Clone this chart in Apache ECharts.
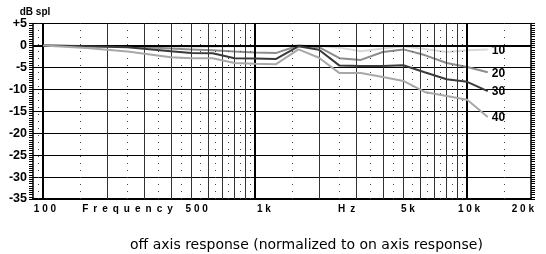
<!DOCTYPE html>
<html>
<head>
<meta charset="utf-8">
<script src="https://cdn.jsdelivr.net/npm/echarts@6/dist/echarts.min.js"></script>
<style>
html, body { margin: 0; padding: 0; background: #fff; }
#chart { width: 546px; height: 254px; }
</style>
</head>
<body>
<div id="chart"></div>
<script>
// off axis response, normalized to on axis
var freqs = [100, 160, 250, 400, 500, 630, 800, 1000, 1250, 1600, 2000, 2500, 3150, 4000, 5000, 6300, 8000, 10000, 12500];
var deg10 = [0, -0.3, -0.3, -0.3, -0.3, -0.3, -0.2, -0.2, -0.2, 0, -0.1, -0.5, -1.3, -0.7, -0.2, -0.8, -1.5, -1.1, -0.9];
var deg20 = [0, -0.1, -0.2, -0.7, -0.9, -1.1, -1.4, -1.6, -1.75, 0, -0.4, -2.9, -3.3, -1.5, -0.9, -2.2, -4.0, -4.9, -6.1];
var deg30 = [0, -0.2, -0.4, -1.3, -1.7, -1.8, -2.9, -3.0, -3.1, -0.2, -1.0, -4.6, -4.7, -4.7, -4.5, -6.1, -7.7, -8.3, -10.4];
var deg40 = [0, -0.6, -1.4, -2.7, -2.9, -2.9, -4.0, -4.2, -4.3, -0.9, -2.8, -6.3, -6.3, -7.2, -8.1, -10.6, -11.5, -12.4, -16.3];

var seriesNames = ['10', '20', '30', '40'];
var seriesColors = ['#d8d8d8', '#8c8c8c', '#3a3a3a', '#a8a8a8'];

// grid lines (Hz)
var majorLines = [100, 1000, 10000];
var solidLines = [200, 300, 400, 500, 600, 700, 800, 900, 2000, 3000, 4000, 5000, 6000, 7000, 8000, 9000];
var dottedLines = [95, 150, 250, 350, 450, 550, 650, 750, 850, 950, 1500, 2500, 3500, 4500, 5500, 6500, 7500, 8500, 9500, 15000];

// bottom axis texts and where they sit (Hz)
var xLabels = ['100', 'Frequency', '500', '1k', 'Hz', '5k', '10k', '20k'];
var xLabelAt = [102, 250, 530, 1100, 2700, 5250, 10200, 18300];

function pairs(vals) {
    return freqs.map(function (f, i) { return [f, vals[i]]; });
}

function spaced(s) {
    var gap = /[0-9k]/.test(s) && s.length < 4 ? ' ' : '\u2002';
    return s.split('').join(gap);
}

var chart = echarts.init(document.getElementById('chart'));

var vLines = [];
majorLines.forEach(function (f) {
    vLines.push({ xAxis: f, lineStyle: { color: '#000', width: 2, type: 'solid' } });
});
solidLines.forEach(function (f) {
    vLines.push({ xAxis: f, lineStyle: { color: '#333', width: 1, type: 'solid' } });
});
dottedLines.forEach(function (f) {
    vLines.push({ xAxis: f, lineStyle: { color: '#444', width: 1, type: [1, 6] } });
});

var allData = [deg10, deg20, deg30, deg40];
var series = [{
    name: 'grid',
    type: 'line',
    data: [[100, 0]],
    symbol: 'none',
    silent: true,
    lineStyle: { opacity: 0 },
    z: 1,
    markLine: {
        silent: true,
        symbol: 'none',
        label: { show: false },
        emphasis: { disabled: true },
        animation: false,
        data: vLines.concat([{ yAxis: 0, lineStyle: { color: '#000', width: 2, type: 'solid' } }])
    }
}];
allData.forEach(function (d, i) {
    series.push({
        name: seriesNames[i],
        type: 'line',
        data: pairs(d),
        symbol: 'none',
        z: 3 + (i === 0 ? 0 : i),
        lineStyle: { color: seriesColors[i], width: 2 },
        endLabel: {
            show: true,
            formatter: seriesNames[i],
            color: '#000',
            fontFamily: 'Liberation Sans, Arial, sans-serif',
            fontWeight: 'bold',
            fontSize: 12,
            distance: 4,
            offset: [0, 1]
        }
    });
});

var rulerAxis = {
    type: 'value',
    min: -35,
    max: 5,
    interval: 5,
    axisLine: { show: true, lineStyle: { color: '#000', width: 1.5 } },
    axisTick: { show: true, inside: false, length: 4, lineStyle: { color: '#000', width: 1 } },
    minorTick: { show: true, splitNumber: 10, length: 4, lineStyle: { color: '#000', width: 1 } },
    minorSplitLine: { show: false }
};

chart.setOption({
    animation: false,
    backgroundColor: '#fff',
    title: {
        text: 'off axis response (normalized to on axis response)',
        left: 125,
        top: 233,
        textStyle: { fontFamily: 'DejaVu Sans', fontWeight: 'normal', fontSize: 14, color: '#000' }
    },
    grid: { left: 33, right: 15, top: 23.5, bottom: 55, containLabel: false },
    xAxis: {
        type: 'log',
        min: 89.6,
        max: 20000,
        axisLine: { show: true, onZero: false, lineStyle: { color: '#000', width: 2 } },
        axisTick: { show: false },
        axisLabel: { show: false },
        splitLine: { show: false },
        minorSplitLine: { show: false }
    },
    yAxis: [
        echarts.util.merge({
            name: 'dB spl',
            nameLocation: 'end',
            nameGap: 2,
            nameTextStyle: { fontFamily: 'Liberation Sans, Arial', fontWeight: 'bold', fontSize: 10, color: '#000', align: 'center', padding: [0, 0, 0, 4] },
            axisLabel: {
                show: true,
                margin: 6,
                color: '#000',
                fontFamily: 'Liberation Sans, Arial',
                fontWeight: 'bold',
                fontSize: 12.5,
                formatter: function (v) { return v > 0 ? '+' + v : String(v); }
            },
            splitLine: { show: true, lineStyle: { color: '#000', width: 1.2 } }
        }, rulerAxis, true),
        echarts.util.merge({
            position: 'right',
            axisLabel: { show: false },
            splitLine: { show: false }
        }, rulerAxis, true)
    ],
    series: series
});

var g = xLabels.map(function (t, i) {
    var px = chart.convertToPixel({ xAxisIndex: 0 }, xLabelAt[i]);
    return {
        type: 'text',
        x: px,
        y: 209,
        silent: true,
        style: {
            text: spaced(t),
            fill: '#000',
            font: 'bold 10px "Liberation Sans", Arial, sans-serif',
            textAlign: 'center',
            textVerticalAlign: 'middle'
        }
    };
});
chart.setOption({ graphic: g });
</script>
</body>
</html>
